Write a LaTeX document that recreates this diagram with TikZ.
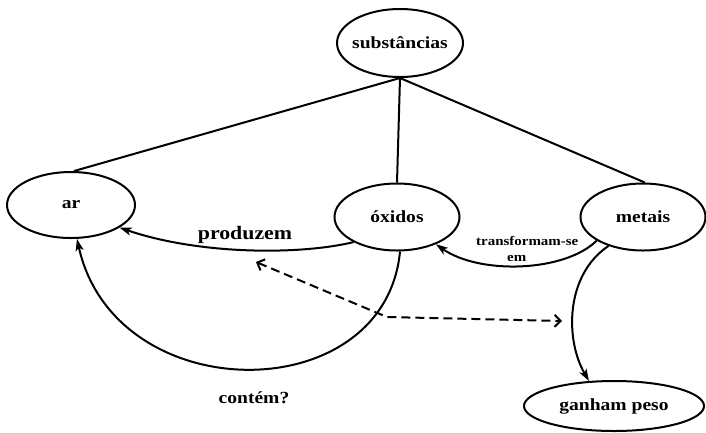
\documentclass[tikz,border=0pt]{standalone}
\usepackage{fontspec}
\setmainfont{Liberation Serif}[FakeStretch=1.15]
\usetikzlibrary{shapes.geometric,arrows.meta}
\tikzset{
 ell/.style={ellipse, draw, line width=2pt, inner sep=0pt, font=\fontsize{17}{20}\selectfont\bfseries},
 conn/.style={line width=2pt},
 arr/.style={conn, -{Stealth[length=12pt,width=8pt,inset=3pt]}},
 dsh/.style={conn, dash pattern=on 9pt off 5pt, {Straight Barb[length=6pt,width=12pt]}-{Straight Barb[length=6pt,width=12pt]}},
 lab/.style={font=\fontsize{17}{20}\selectfont\bfseries, inner sep=0pt},
 biglab/.style={font=\fontsize{19}{22}\selectfont\bfseries, inner sep=0pt},
 smalllab/.style={font=\fontsize{13}{16}\selectfont\bfseries, inner sep=0pt, align=left}
}
\newcommand{\zt}[1]{\makebox[0pt]{#1}}
\begin{document}
\begin{tikzpicture}[x=1pt,y=-1pt]
\useasboundingbox (0,0) rectangle (706,432);
\node[ell, minimum width=126pt, minimum height=68pt] (sub) at (400,43) {\zt{substâncias}};
\node[ell, minimum width=128pt, minimum height=66pt] (ar) at (71,205) {\zt{ar}};
\node[ell, minimum width=125pt, minimum height=67pt] (ox) at (397,217) {\zt{óxidos}};
\node[ell, minimum width=125pt, minimum height=67pt] (me) at (643,217) {\zt{metais}};
\node[ell, minimum width=180pt, minimum height=50pt] (gp) at (614,406) {\zt{ganham peso}};

\draw[conn] (sub.south) -- (ar.85);
\draw[conn] (sub.south) -- (ox.north);
\draw[conn] (sub.south) -- (me.87);

\draw[arr] (ox.210) .. controls (300,255) and (200,255) .. (ar.-25);
\draw[arr] (ox.-85) .. controls (385,410) and (115,410) .. (ar.-80);
\draw[arr] (me.207) .. controls (565,272) and (480,275) .. (ox.-35);
\draw[arr] (me.220) .. controls (565,275) and (565,340) .. (gp.135);

\coordinate (d1) at (256,262);
\coordinate (dk) at (387,317);
\coordinate (d2) at (562,321);
\draw[dsh] (d1) -- (dk) -- (d2);

\node[biglab] (prod) at (245,235) {produzem};
\node[lab] (cont) at (254,398) {contém?};
\node[smalllab, anchor=north west] (tr) at (476,236) {transformam-se\\\hspace*{31pt}em};
\end{tikzpicture}
\end{document}
